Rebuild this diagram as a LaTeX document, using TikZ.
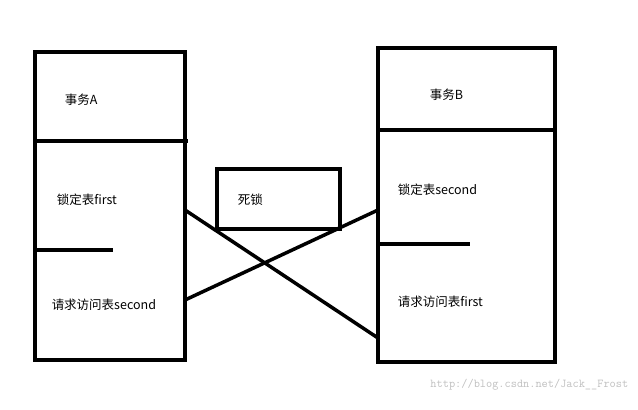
\documentclass[tikz,border=0pt]{standalone}
\usepackage{fontspec}
\newfontfamily\cjk{Noto Sans CJK SC}
\begin{document}
\begin{tikzpicture}[x=1pt,y=-1pt,line width=3.5pt,
  lbl/.style={anchor=west,font=\cjk\fontsize{12.5}{14}\selectfont,inner sep=0pt}]
\useasboundingbox (0,0) rectangle (638,410);
\draw (35,52) rectangle (185,360);
\draw (35,141) -- (188,141);
\draw (35,250) -- (113,250);
\draw (378,48) rectangle (555,362);
\draw (378,130) -- (555,130);
\draw (378,244) -- (470,244);
\draw (217,169) rectangle (340,229);
\node[lbl] (ta) at (63,100) {事务A};
\node[lbl] (tb) at (428,95) {事务B};
\node[lbl] (a1) at (55,200) {锁定表first};
\node[lbl] (a2) at (50,305) {请求访问表second};
\node[lbl] (b1) at (396,190) {锁定表second};
\node[lbl] (b2) at (396,302) {请求访问表first};
\node[lbl] (dl) at (236,200) {死锁};
\coordinate (p1) at (185,210); \coordinate (q1) at (378,338);
\coordinate (p2) at (185,300); \coordinate (q2) at (378,210);
\draw (p1) -- (q1);
\draw (p2) -- (q2);
\node[anchor=east,font=\ttfamily\fontsize{12}{14}\selectfont,text=black!25,inner sep=0pt] (wm) at (630,385) {http://blog.csdn.net/Jack\_\_Frost};
\end{tikzpicture}
\end{document}
